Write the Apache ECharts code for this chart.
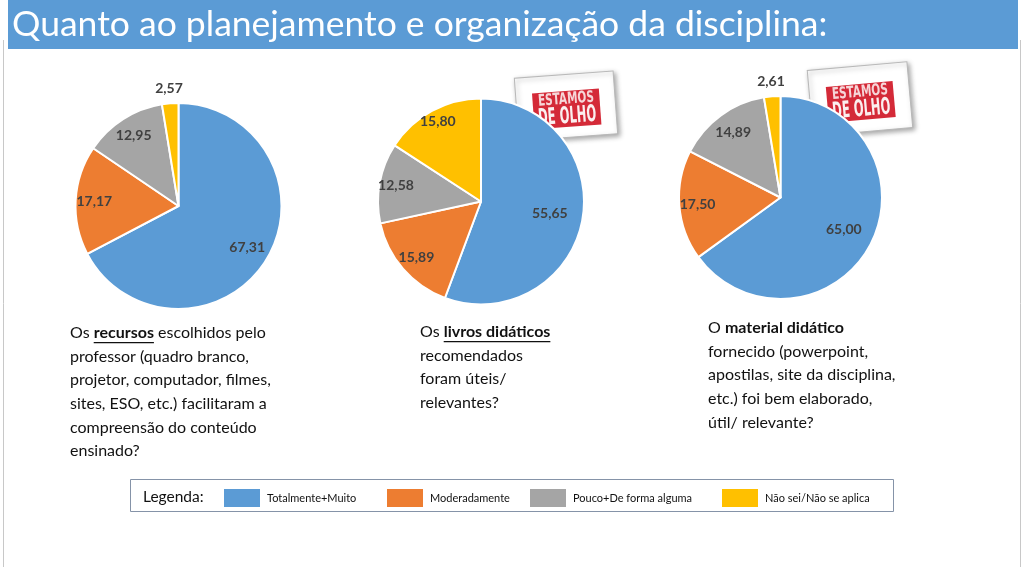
<!DOCTYPE html>
<html>
<head>
<meta charset="utf-8">
<script src="https://cdn.jsdelivr.net/npm/echarts@6/dist/echarts.min.js"></script>
<style>
html,body{margin:0;padding:0;background:#fff;}
#chart{width:1024px;height:567px;}
</style>
</head>
<body>
<div id="chart"></div>
<script>
// ---- data ----
const categories = ['Totalmente+Muito', 'Moderadamente', 'Pouco+De forma alguma', 'Não sei/Não se aplica'];
const recursos = [67.31, 17.17, 12.95, 2.57];
const livros = [55.65, 15.89, 12.58, 15.80];
const material = [65.00, 17.50, 14.89, 2.61];
const colors = ['#5B9BD5', '#ED7D31', '#A5A5A5', '#FFC000'];
const pageTitle = 'Quanto ao planejamento e organização da disciplina:';

// ---- layout ----
const FONT = 'Lato, "Open Sans", sans-serif';
const pies = [
  { values: recursos, center: [178.5, 206], r: 103, labelR: [0.75, 0.79, 0.78, 'out'] },
  { values: livros, center: [481, 201.5], r: 103, labelR: [0.65, 0.80, 0.81, 0.85] },
  { values: material, center: [780.5, 197.5], r: 101.5, labelR: [0.67, 0.79, 0.76, 'out'] }
];

const fmt = v => v.toFixed(2).replace('.', ',');

const series = [];
pies.forEach((p, pi) => {
  series.push({
    type: 'pie',
    name: 'pie' + pi,
    center: p.center,
    radius: [0, p.r],
    startAngle: 90,
    clockwise: true,
    silent: true,
    emphasis: { disabled: true },
    label: { show: false },
    labelLine: { show: false },
    itemStyle: { borderColor: '#fff', borderWidth: 2 },
    data: p.values.map((v, i) => ({ name: categories[i], value: v, itemStyle: { color: colors[i] } })),
    z: 2
  });
  // label layers: one per slice so each label sits at its own radius
  p.labelR.forEach((k, idx) => {
    const rad = k === 'out' ? 2 * (p.r + 12) : 2 * k * p.r;
    series.push({
      type: 'pie',
      name: 'lbl' + pi + '_' + idx,
      center: p.center,
      radius: [0, rad],
      startAngle: 90,
      clockwise: true,
      silent: true,
      emphasis: { disabled: true },
      itemStyle: { color: 'rgba(0,0,0,0)', borderWidth: 0 },
      labelLine: { show: false },
      label: {
        show: true, position: 'inside',
        color: '#404040', fontFamily: FONT, fontWeight: 'bold', fontSize: 14,
        formatter: prm => fmt(prm.value)
      },
      data: p.values.map((v, i) => ({ name: categories[i], value: v, label: { show: i === idx } })),
      z: 3
    });
  });
});

// ---- text measuring ----
const mctx = document.createElement('canvas').getContext('2d');
function tw(text, font) { mctx.font = font; return mctx.measureText(text).width; }

const TXT = 16;
const LH = 23.6;
const normalFont = TXT + 'px ' + FONT;
const boldFont = 'bold ' + TXT + 'px ' + FONT;

const blocks = [
  { x: 70, y: 333, lead: 'Os ', bold: 'recursos', rest: ' escolhidos pelo', underline: true,
    lines: ['professor (quadro branco,', 'projetor, computador, filmes,', 'sites, ESO, etc.) facilitaram a', 'compreensão do conteúdo', 'ensinado?'] },
  { x: 420, y: 332, lead: 'Os ', bold: 'livros didáticos', rest: '', underline: true,
    lines: ['recomendados', 'foram úteis/', 'relevantes?'] },
  { x: 708, y: 328, lead: 'O ', bold: 'material didático', rest: '', underline: false,
    lines: ['fornecido (powerpoint,', 'apostilas, site da disciplina,', 'etc.) foi bem elaborado,', 'útil/ relevante?'] }
];

const graphics = [];
// page border lines
graphics.push({ type: 'line', shape: { x1: 3.5, y1: 40, x2: 3.5, y2: 567 }, style: { stroke: '#C8C8C8', lineWidth: 1 }, z: 1 });
graphics.push({ type: 'line', shape: { x1: 1020.5, y1: 40, x2: 1020.5, y2: 567 }, style: { stroke: '#C8C8C8', lineWidth: 1 }, z: 1 });
// title bar
graphics.push({ type: 'rect', shape: { x: 8, y: 0, width: 1010, height: 49 }, style: { fill: '#5B9BD5' }, z: 5 });
graphics.push({ type: 'text', x: 12, y: 25, style: { text: pageTitle, fill: '#fff', font: '35.5px ' + FONT, verticalAlign: 'middle' }, z: 6 });

blocks.forEach(b => {
  graphics.push({
    type: 'text', x: b.x, y: b.y,
    style: {
      text: '{n|' + b.lead + '}{b|' + b.bold + '}' + (b.rest ? '{n|' + b.rest + '}' : ''),
      verticalAlign: 'middle',
      rich: {
        n: { font: normalFont, fill: '#111' },
        b: { font: boldFont, fill: '#111' }
      }
    }, z: 6
  });
  if (b.underline) {
    const ux = b.x + tw(b.lead, normalFont);
    const uw = tw(b.bold, boldFont);
    graphics.push({ type: 'rect', shape: { x: ux, y: b.y + 9, width: uw, height: 1.3 }, style: { fill: '#111' }, z: 6 });
  }
  b.lines.forEach((t, i) => {
    graphics.push({ type: 'text', x: b.x, y: b.y + LH * (i + 1), style: { text: t, font: normalFont, fill: '#111', verticalAlign: 'middle' }, z: 6 });
  });
});

// legend box
graphics.push({ type: 'rect', shape: { x: 130.5, y: 479.5, width: 763, height: 32 }, style: { fill: 'none', stroke: '#8593A8', lineWidth: 1 }, z: 60 });
graphics.push({ type: 'text', x: 143, y: 497, style: { text: 'Legenda:', font: '15.5px ' + FONT, fill: '#111', verticalAlign: 'middle' }, z: 6 });

// "ESTAMOS DE OLHO" stamps
const SFONT1 = 'bold 16px "DejaVu Sans Condensed", "DejaVu Sans", sans-serif';
const SFONT2 = 'bold 23px "DejaVu Sans Condensed", "DejaVu Sans", sans-serif';
function stamp(cx, cy, w, h, rotDeg) {
  return {
    type: 'group', x: cx, y: cy, rotation: rotDeg * Math.PI / 180, z: 50,
    children: [
      { type: 'rect', shape: { x: -w / 2, y: -h / 2, width: w, height: h },
        style: { fill: '#fff', stroke: '#B8B8B8', lineWidth: 1, shadowBlur: 5, shadowColor: 'rgba(0,0,0,0.35)', shadowOffsetX: 2, shadowOffsetY: 2 } },
      { type: 'rect', shape: { x: -33, y: -15, width: 67, height: 36 }, style: { fill: '#D42A38' } },
      { type: 'group', x: 0.5, y: -6.5, scaleX: 56 / tw('ESTAMOS', SFONT1), children: [
        { type: 'text', style: { text: 'ESTAMOS', fill: '#F6D6D8', font: SFONT1, align: 'center', verticalAlign: 'middle' } }
      ] },
      { type: 'group', x: 0.5, y: 11, scaleX: 58 / tw('DE OLHO', SFONT2), children: [
        { type: 'text', style: { text: 'DE OLHO', fill: '#FBEFEF', font: SFONT2, align: 'center', verticalAlign: 'middle' } }
      ] }
    ]
  };
}
graphics.push(stamp(566, 106, 99, 63, 4.2));
graphics.push(stamp(860, 99, 100, 66, 5.1));

// four legends, one per category
const legendLeft = [222, 385, 528, 720];
const legends = categories.map((c, i) => ({
  left: legendLeft[i], top: 487, padding: 0,
  itemWidth: 38, itemHeight: 20, itemGap: 0,
  icon: 'rect',
  selectedMode: false,
  data: [{ name: c, itemStyle: { color: colors[i] } }],
  textStyle: { fontFamily: FONT, fontSize: 11, color: '#111', padding: [0, 0, 0, 1] }
}));

const chart = echarts.init(document.getElementById('chart'), null, { renderer: 'canvas' });
chart.setOption({
  backgroundColor: '#fff',
  animation: false,
  legend: legends,
  graphic: graphics,
  series: series
});
</script>
</body>
</html>
